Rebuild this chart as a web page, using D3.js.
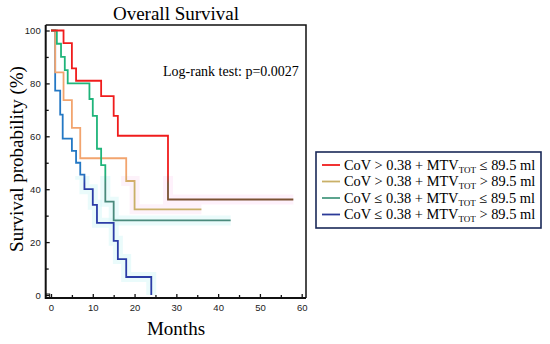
<!DOCTYPE html>
<html>
<head>
<meta charset="utf-8">
<script src="https://cdn.jsdelivr.net/npm/d3@7"></script>
<style>
  body { margin: 0; background: #fff; }
  svg { display: block; }
</style>
</head>
<body>
<div id="chart"></div>
<script>
// survival curves, months vs % surviving
var redTime = [0, 3, 5, 6, 12, 15, 16, 28, 58];
var redSurv = [100, 95.2, 85.7, 81.0, 75.2, 67.7, 60.2, 36.1, 36.1];

var orangeTime = [0, 1, 3, 5, 7, 18, 20, 36];
var orangeSurv = [100, 84.2, 73.7, 63.2, 51.7, 43.1, 32.4, 32.4];

var greenTime = [0, 1.4, 2.4, 3.3, 4, 9.2, 10, 11, 12, 13, 15, 43];
var greenSurv = [100, 95, 90, 85, 80, 74.1, 67.7, 55.3, 49.1, 35.3, 28.2, 28.2];

var blueTime = [0, 1, 2.2, 2.8, 5, 6, 7, 8, 10, 11, 15, 16, 18, 24, 24];
var blueSurv = [100, 77.3, 68.2, 59.1, 54.5, 50, 45.5, 40.0, 34.1, 27.3, 20.5, 13.6, 6.8, 6.8, 0];

var xTicks = [0, 10, 20, 30, 40, 50, 60];
var yTicks = [0, 20, 40, 60, 80, 100];

var legendLabels = [
  ["CoV > 0.38 + MTV", "TOT", " \u2264 89.5 ml"],
  ["CoV > 0.38 + MTV", "TOT", " > 89.5 ml"],
  ["CoV \u2264 0.38 + MTV", "TOT", " \u2264 89.5 ml"],
  ["CoV \u2264 0.38 + MTV", "TOT", " > 89.5 ml"]
];

// upper part / lower part colours (the curves change tone below ~44%)
var series = [
  { id: "blue",   t: blueTime,   s: blueSurv,   top: "#2478c4", bot: "#2b3ca6", halo: "#d9f8f8", leg: "#2b3a98" },
  { id: "orange", t: orangeTime, s: orangeSurv, top: "#f2a46e", bot: "#c9b068", halo: "#fbe8f6", leg: "#c9b068" },
  { id: "green",  t: greenTime,  s: greenSurv,  top: "#1fb47a", bot: "#4a8a7c", halo: "#d9f8f8", leg: "#4a9a82" },
  { id: "red",    t: redTime,    s: redSurv,    top: "#f01c1c", bot: "#7a5232", halo: "#fde6f8", leg: "#f01c1c" }
];
var legendOrder = ["red", "orange", "green", "blue"];

var W = 550, H = 344;
var svg = d3.select("#chart").append("svg")
  .attr("width", W)
  .attr("height", H);

var x = d3.scaleLinear().domain([0, 60]).range([51, 301.7]);
var y = d3.scaleLinear().domain([0, 100]).range([295, 30.5]);

var frame = { left: 45.7, right: 306, top: 25, bottom: 298 };
var serif = "'Liberation Serif', 'Times New Roman', serif";
var sans = "'Liberation Sans', Arial, sans-serif";

var defs = svg.append("defs");
series.forEach(function(d) {
  var g = defs.append("linearGradient")
    .attr("id", "grad-" + d.id)
    .attr("gradientUnits", "userSpaceOnUse")
    .attr("x1", 0).attr("x2", 0)
    .attr("y1", y(46)).attr("y2", y(42));
  g.append("stop").attr("offset", 0).attr("stop-color", d.top);
  g.append("stop").attr("offset", 1).attr("stop-color", d.bot);
});
defs.append("clipPath").attr("id", "lower")
  .append("rect")
  .attr("x", frame.left).attr("y", y(45))
  .attr("width", frame.right - frame.left)
  .attr("height", frame.bottom - y(45));

var line = d3.line()
  .x(function(p) { return x(p[0]); })
  .y(function(p) { return y(p[1]); })
  .curve(d3.curveStepAfter);

// faint confidence halo in the lower half
svg.append("g").attr("clip-path", "url(#lower)")
  .selectAll("path.halo")
  .data(series)
  .enter().append("path")
  .attr("class", "halo")
  .attr("d", function(d) { return line(d3.zip(d.t, d.s)); })
  .attr("fill", "none")
  .attr("stroke", function(d) { return d.halo; })
  .attr("stroke-width", 10)
  .attr("opacity", 0.55);

svg.selectAll("path.km")
  .data(series)
  .enter().append("path")
  .attr("class", "km")
  .attr("d", function(d) { return line(d3.zip(d.t, d.s)); })
  .attr("fill", "none")
  .attr("stroke", function(d) { return "url(#grad-" + d.id + ")"; })
  .attr("stroke-width", 1.8)
  .attr("stroke-linejoin", "miter");

// frame: top and right thin, left and bottom heavier
svg.append("path")
  .attr("d", "M" + frame.left + "," + frame.top + "H" + frame.right + "V" + frame.bottom)
  .attr("fill", "none")
  .attr("stroke", "#111")
  .attr("stroke-width", 1.5);

var yAxis = svg.append("g")
  .attr("transform", "translate(" + frame.left + ",0)")
  .call(d3.axisLeft(y).tickValues(yTicks).tickSize(-4).tickPadding(5));
svg.append("g")
  .attr("transform", "translate(" + frame.left + ",0)")
  .call(d3.axisLeft(y).tickValues([10, 30, 50, 70, 90]).tickSize(-3).tickFormat(""))
  .select(".domain").remove();

var xAxis = svg.append("g")
  .attr("transform", "translate(0," + frame.bottom + ")")
  .call(d3.axisBottom(x).tickValues(xTicks).tickSize(-4).tickPadding(6));
svg.append("g")
  .attr("transform", "translate(0," + frame.bottom + ")")
  .call(d3.axisBottom(x).tickValues([5, 15, 25, 35, 45, 55]).tickSize(-3).tickFormat(""))
  .select(".domain").remove();

[yAxis, xAxis].forEach(function(a) {
  a.select(".domain").remove();
  a.selectAll("text").attr("font-family", sans).attr("font-size", 9.5).attr("fill", "#222");
});
svg.selectAll(".tick line").attr("stroke", "#111").attr("stroke-width", 1.3);

svg.append("path")
  .attr("d", "M" + frame.left + "," + frame.top + "V" + frame.bottom + "H" + frame.right)
  .attr("fill", "none")
  .attr("stroke", "#111")
  .attr("stroke-width", 2);
// little corner box
svg.append("rect")
  .attr("x", frame.left).attr("y", frame.bottom - 4)
  .attr("width", 4).attr("height", 4)
  .attr("fill", "none").attr("stroke", "#111").attr("stroke-width", 1);

// titles
svg.append("text")
  .attr("x", 176).attr("y", 20)
  .attr("text-anchor", "middle")
  .attr("font-family", serif).attr("font-size", 19)
  .text("Overall Survival");

svg.append("text")
  .attr("x", 163).attr("y", 76)
  .attr("font-family", serif).attr("font-size", 14)
  .text("Log-rank test: p=0.0027");

svg.append("text")
  .attr("transform", "translate(23,159) rotate(-90)")
  .attr("text-anchor", "middle")
  .attr("font-family", serif).attr("font-size", 19)
  .text("Survival probability (%)");

svg.append("text")
  .attr("x", 176).attr("y", 335)
  .attr("text-anchor", "middle")
  .attr("font-family", serif).attr("font-size", 19)
  .text("Months");

// legend
var leg = svg.append("g").attr("transform", "translate(316,152)");
leg.append("rect")
  .attr("width", 225).attr("height", 76)
  .attr("fill", "#fff")
  .attr("stroke", "#1a2858")
  .attr("stroke-width", 1.6);

var rows = leg.selectAll("g.row")
  .data(legendOrder)
  .enter().append("g")
  .attr("class", "row")
  .attr("transform", function(d, i) { return "translate(0," + (13 + i * 16.5) + ")"; });

rows.append("line")
  .attr("x1", 6).attr("x2", 24)
  .attr("stroke", function(id) { return series.find(function(s) { return s.id === id; }).leg; })
  .attr("stroke-width", 1.8);

var txt = rows.append("text")
  .attr("x", 28).attr("y", 4.5)
  .attr("font-family", serif).attr("font-size", 14.4);
txt.each(function(id, i) {
  var t = d3.select(this), parts = legendLabels[i];
  t.append("tspan").text(parts[0]);
  t.append("tspan").attr("font-size", 9).attr("dy", 3).text(parts[1]);
  t.append("tspan").attr("dy", -3).text(parts[2]);
});
</script>
</body>
</html>
